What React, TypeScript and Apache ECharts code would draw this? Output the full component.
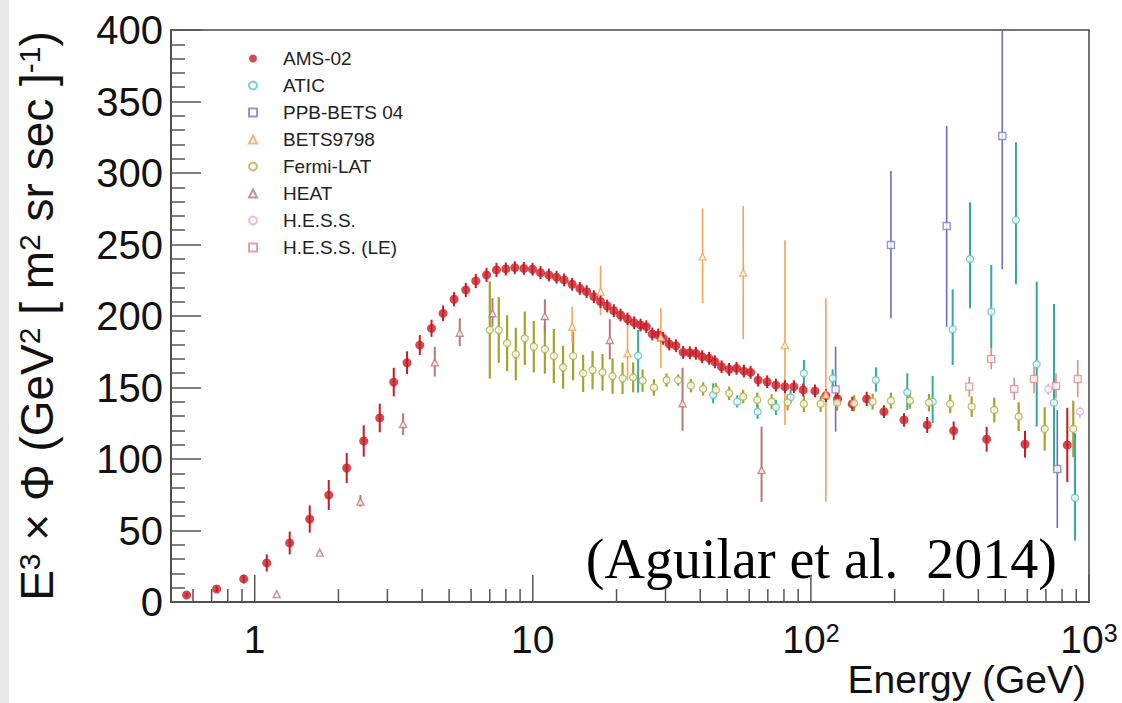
import React, { useEffect, useRef } from 'react';
import * as echarts from 'echarts';

const FONT = '"Liberation Sans", Arial, Helvetica, sans-serif';

// AMS-02: energy (GeV), E^3 flux, symmetric error
const AMS_E = [0.569, 0.730, 0.913, 1.105, 1.336, 1.577, 1.846, 2.142, 2.466, 2.816, 3.162, 3.530, 3.923, 4.322, 4.757, 5.211, 5.741, 6.237, 6.817, 7.403, 7.996, 8.615, 9.284, 9.975, 10.66, 11.42, 12.17, 12.96, 13.85, 14.76, 15.61, 16.58, 17.52, 18.51, 19.56, 20.68, 21.91, 23.14, 24.40, 25.6, 26.9, 28.23, 29.43, 30.93, 32.69, 34.72, 36.70, 38.58, 40.64, 43.07, 45.15, 47.73, 50.82, 54.03, 57.41, 60.69, 64.61, 69.62, 74.83, 80.64, 86.86, 93.83, 103.4, 113.2, 124.7, 140.8, 158.7, 183.1, 216.1, 262.0, 326.1, 428.5, 588.7, 835.5];
const AMS_V = [4.9, 9.1, 16.1, 27.3, 41.3, 58, 74.8, 93.7, 112.6, 128.7, 153.8, 167.3, 179.7, 191.4, 201.9, 211.7, 218.2, 224.5, 228.7, 232.2, 232.9, 233.8, 233.3, 232.7, 230.3, 228.7, 227.1, 225.2, 222.2, 219.3, 217, 213.5, 210, 207, 203.7, 200.7, 197.9, 195.3, 193.7, 192.5, 187.4, 186.7, 184.4, 180.4, 179.2, 174.6, 174.3, 173.9, 171.5, 170.4, 168, 164.5, 162.7, 163.4, 161.5, 160.6, 155.2, 154, 151.7, 150.6, 150.6, 148.3, 147.6, 144.3, 142, 138.5, 142, 133.1, 127.3, 123.8, 119.8, 113.8, 110.3, 109.8];
const AMS_ERR = [1.5, 2, 3, 6, 8, 9.5, 10.5, 10.5, 11, 10, 10, 8, 7, 6, 5.5, 5, 5, 5, 5, 5, 4.5, 4.5, 4.5, 4.5, 4.5, 4.5, 4.5, 4.5, 4.5, 4.5, 4.5, 4.5, 4.5, 4.5, 4.5, 4.5, 4.5, 4.5, 4.5, 4.5, 4.5, 4.5, 4.5, 4.5, 4.5, 4.5, 4.5, 4.5, 4.5, 4.5, 4.5, 4.5, 4.5, 4.5, 4.5, 4.5, 4.5, 4.5, 4.5, 4.5, 4.5, 4.5, 4.5, 4.5, 4.5, 5, 5, 4.5, 4.7, 5.6, 6.4, 8.7, 9.3, 26];

// Fermi-LAT
const FERMI_E = [7.003, 7.545, 8.083, 8.688, 9.358, 10.08, 11.05, 11.90, 12.85, 13.96, 15.17, 16.40, 17.81, 19.35, 21.02, 22.95, 24.81, 27.25, 30.27, 33.32, 37.02, 40.98, 45.53, 50.82, 57.09, 64.11, 72.23, 82.47, 94.37, 108.4, 124.3, 143.1, 166.7, 194.0, 227.1, 265.8, 317.0, 378.5, 456.4, 558.6, 692.9, 878.0];
const FERMI_V = [190.2, 190.2, 181, 173.4, 184.4, 178.5, 176.7, 172, 164.1, 172, 159.9, 162.2, 160.6, 158, 156.4, 157.1, 154.8, 150, 155.2, 155.2, 151.3, 149, 148.3, 145.9, 143.6, 141.3, 140.1, 139.6, 138.5, 138.5, 139.4, 139, 140.1, 140.8, 140.8, 139.4, 138.5, 136.6, 134.3, 129.6, 121, 121];
const FERMI_ERR = [34, 23, 19.5, 18.4, 18.7, 18, 17, 19, 15, 17, 13, 13.4, 12.8, 12.4, 11, 10.5, 7.8, 5.8, 4.7, 4, 4.7, 4.7, 4.7, 4.7, 4.7, 5.2, 5.2, 5.6, 5.6, 5.6, 5.6, 5.6, 5.6, 5.6, 5.6, 6, 6.5, 7.2, 8.7, 10.1, 15.2, 19.8];

// [energy, value, low, high]
const ATIC = [[23.92, 172.2, 146.4, 190.2], [44.52, 144.8, 138.9, 152.9], [54.31, 140.1, 136, 144.5], [64.33, 133.1, 128, 138], [74.83, 136.2, 130.8, 141.3], [84.53, 143.1, 139, 148.3], [94.37, 159.9, 150.6, 169.2], [119.7, 156.4, 150.1, 162.7], [171.3, 155.2, 147.1, 164.1], [222.1, 146.6, 134.3, 159.9], [274.0, 140.1, 125, 158], [323.4, 190.7, 165.7, 218.7], [373.3, 239.9, 205.4, 279.5], [445.2, 203, 177.4, 235.7], [546.2, 267.1, 222.2, 321.5], [648.6, 166.2, 122.6, 224], [748.3, 139.4, 92.3, 208.4], [890.4, 72.9, 43, 118]];
const PPB = [[122.7, 148.7, 119.1, 178.5], [194.0, 249.7, 198.4, 301.4], [307.7, 262.9, 192.5, 332.9], [487.7, 325.9, 232.7, 410], [769.1, 93, 51.7, 134.3]];
const BETS = [[13.85, 192.5, 180.9, 206.5], [17.52, 217, 200.7, 235.2], [21.91, 173.9, 155.2, 193], [28.87, 185.1, 163.4, 205.4], [40.77, 241.5, 208.9, 275.3], [57.09, 230.3, 183.7, 276.9], [80.64, 179.7, 123.8, 253], [113.2, 145, 70.1, 212.4]];
const HEAT = [[1.200, 5.6, 4.6, 6.6], [1.713, 34.5, 33, 36], [2.400, 70.2, 66.6, 74.8], [3.416, 124.5, 116.8, 132], [4.441, 167.6, 157.6, 178.5], [5.462, 188.3, 179, 198.4], [7.161, 201.9, 192.5, 212.4], [11.05, 200, 189, 211.7], [18.92, 183.2, 169.7, 197.7], [34.55, 139, 119.8, 163.8], [66.47, 92.3, 70.1, 122.6]];
const HESS = [[714.0, 148.7, 144.8, 152.9], [928.1, 133.1, 128.5, 136.6]];
const HESS_LE = [[371.1, 150.6, 143.6, 157.6], [445.2, 169.9, 162.7, 177.4], [538.6, 149, 141.3, 156.9], [634.3, 155.9, 146, 164.1], [760.8, 151, 142.5, 159.9], [911, 155.9, 143.2, 169.2]];

const X_MAJOR_TICKS = [1, 10, 100, 1000];
const X_MINOR_TICKS = [0.6, 0.7, 0.8, 0.9, 2, 3, 4, 5, 6, 7, 8, 9, 20, 30, 40, 50, 60, 70, 80, 90, 200, 300, 400, 500, 600, 700, 800, 900];

const NAMES = ['AMS-02', 'ATIC', 'PPB-BETS 04', 'BETS9798', 'Fermi-LAT', 'HEAT', 'H.E.S.S.', 'H.E.S.S. (LE)'];

function errSeries(id: string, rows: number[][], color: string, width: number) {
  return {
    type: 'custom',
    id: id + '-err',
    silent: true,
    z: 2,
    encode: { x: 0, y: 1 },
    data: rows,
    renderItem: (params: any, api: any) => {
      const x = api.value(0);
      const lo = Math.max(api.value(2), 0);
      const hi = Math.min(api.value(3), 400);
      const p1 = api.coord([x, lo]);
      const p2 = api.coord([x, hi]);
      return {
        type: 'line',
        shape: { x1: p1[0], y1: p1[1], x2: p2[0], y2: p2[1] },
        style: { stroke: color, lineWidth: width },
      };
    },
  };
}

function markSeries(name: string, rows: number[][], symbol: string, color: string, size: number, filled: boolean) {
  return {
    type: 'scatter',
    name,
    z: 3,
    symbol,
    symbolSize: size,
    symbolKeepAspect: true,
    data: rows.map((r) => [r[0], r[1]]),
    itemStyle: filled
      ? { color, borderWidth: 0 }
      : { color: '#ffffff', borderColor: color, borderWidth: 1.4 },
  };
}

function tickSeries(id: string, ticks: number[], len: number) {
  return {
    type: 'custom',
    id,
    silent: true,
    z: 4,
    data: ticks.map((t) => [t, 0, len]),
    encode: { x: 0, y: 1 },
    renderItem: (params: any, api: any) => {
      const p = api.coord([api.value(0), 0]);
      const l = api.value(2);
      return {
        type: 'line',
        shape: { x1: p[0], y1: p[1], x2: p[0], y2: p[1] - l },
        style: { stroke: '#555', lineWidth: 1.5 },
      };
    },
  };
}

export default function App() {
  const ref = useRef<HTMLDivElement>(null);
  useEffect(() => {
    if (!ref.current) return;
    const chart = echarts.init(ref.current, undefined, { renderer: 'svg' });

    const amsRows = AMS_E.map((e, i) => [e, AMS_V[i], AMS_V[i] - AMS_ERR[i], AMS_V[i] + AMS_ERR[i]]);
    const fermiRows = FERMI_E.map((e, i) => [e, FERMI_V[i], FERMI_V[i] - FERMI_ERR[i], FERMI_V[i] + FERMI_ERR[i]]);

    const labelRich = {
      b: { fontSize: 39, fontFamily: FONT, color: '#111' },
      s: { fontSize: 25, fontFamily: FONT, color: '#111', verticalAlign: 'top' },
    };

    const option: any = {
      animation: false,
      backgroundColor: '#ffffff',
      grid: { left: 171, right: 33, top: 30, bottom: 101, show: true, borderColor: '#444', borderWidth: 1.5, backgroundColor: 'transparent' },
      xAxis: {
        type: 'log',
        logBase: 10,
        min: 0.5,
        max: 1000,
        axisLine: { show: true, lineStyle: { color: '#444', width: 1.5 } },
        axisTick: { show: false },
        splitLine: { show: false },
        axisLabel: {
          margin: 18,
          showMinLabel: false,
          formatter: (v: number) => {
            const lg = Math.log10(v);
            const e = Math.round(lg);
            if (Math.abs(lg - e) > 1e-6) return '';
            if (e === 0) return '{b|1}';
            if (e === 1) return '{b|10}';
            return '{b|10}{s|' + e + '}';
          },
          rich: labelRich,
        },
      },
      yAxis: {
        type: 'value',
        min: 0,
        max: 400,
        interval: 50,
        axisLine: { show: true, lineStyle: { color: '#444', width: 1.5 } },
        axisTick: { show: true, inside: true, length: 30, lineStyle: { color: '#555', width: 1.5 } },
        minorTick: { show: true, splitNumber: 5, length: 14, lineStyle: { color: '#555', width: 1.5 } },
        splitLine: { show: false },
        axisLabel: { margin: 8, fontSize: 40, fontFamily: FONT, color: '#111' },
        name: '{n|E}{s|3}{n| × Φ (GeV}{s|2}{n| [ m}{s|2}{n| sr sec ]}{s|-1}{n|)}',
        nameLocation: 'middle',
        nameRotate: 90,
        nameGap: 111,
        nameTextStyle: {
          rich: {
            n: { fontSize: 46, fontFamily: FONT, color: '#111' },
            s: { fontSize: 30, fontFamily: FONT, color: '#111', verticalAlign: 'top' },
          },
        },
      },
      legend: {
        orient: 'vertical',
        left: 243,
        top: 44,
        itemWidth: 8,
        itemHeight: 8,
        itemGap: 8,
        selectedMode: false,
        data: NAMES,
        textStyle: { fontSize: 19, fontFamily: FONT, color: '#222', padding: [0, 0, 0, 21] },
      },
      graphic: [
        { type: 'rect', left: 0, top: 0, z: -10, shape: { width: 9, height: 703 }, style: { fill: '#e8e8e8' } },
        {
          type: 'text',
          x: 1057,
          y: 559,
          style: {
            text: '(Aguilar et al.  2014)',
            font: '56px "Liberation Serif", "Times New Roman", serif',
            fill: '#000',
            textAlign: 'right',
            textVerticalAlign: 'middle',
          },
        },
        {
          type: 'text',
          x: 1086,
          y: 679,
          style: {
            text: 'Energy (GeV)',
            font: '39px ' + FONT,
            fill: '#111',
            textAlign: 'right',
            textVerticalAlign: 'middle',
          },
        },
      ],
      series: [
        tickSeries('xmajor', X_MAJOR_TICKS, 27),
        tickSeries('xminor', X_MINOR_TICKS, 13),
        errSeries('fermi', fermiRows, '#a4a42c', 2.2),
        errSeries('heat', HEAT, '#b87878', 2),
        errSeries('bets', BETS, '#f6a35c', 1.6),
        errSeries('atic', ATIC, '#36a8a2', 2),
        errSeries('ppb', PPB, '#6c6cc2', 1.6),
        errSeries('hess', HESS, '#e8a8d6', 1.5),
        errSeries('hessle', HESS_LE, '#dc8c8c', 1.6),
        errSeries('ams', amsRows, '#c81c24', 2),
        markSeries('AMS-02', amsRows, 'circle', '#c81c24', 9, true),
        markSeries('ATIC', ATIC, 'circle', '#5ec2c4', 7, false),
        markSeries('PPB-BETS 04', PPB, 'rect', '#7c7cca', 7, false),
        markSeries('BETS9798', BETS, 'triangle', '#f5a25a', 7, false),
        markSeries('Fermi-LAT', fermiRows, 'circle', '#b0b04a', 7, false),
        markSeries('HEAT', HEAT, 'triangle', '#b87878', 7, false),
        markSeries('H.E.S.S.', HESS, 'circle', '#e8a8d6', 7, false),
        markSeries('H.E.S.S. (LE)', HESS_LE, 'rect', '#dc8c8c', 7, false),
      ],
    };
    chart.setOption(option);
    return () => chart.dispose();
  }, []);
  return <div ref={ref} style={{ position: 'fixed', left: 0, top: 0, width: 1122, height: 703 }} />;
}
